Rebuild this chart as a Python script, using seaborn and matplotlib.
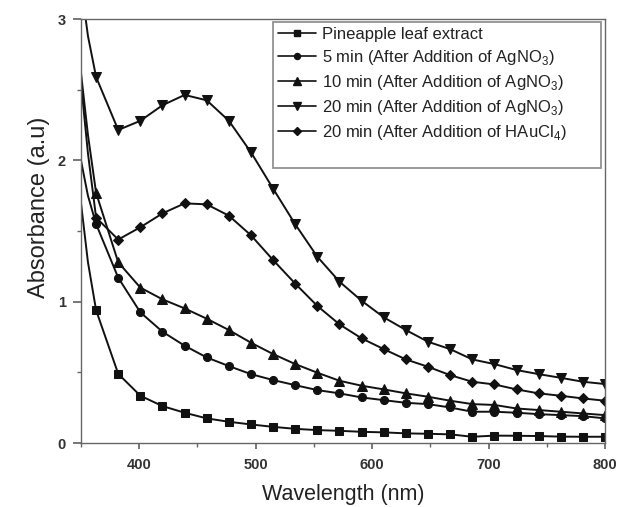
import numpy as np
import pandas as pd
import seaborn as sns
import matplotlib
matplotlib.use("Agg")
import matplotlib.pyplot as plt
from matplotlib.lines import Line2D
from matplotlib.ticker import MultipleLocator

# wavelengths (nm): first two are line-only points, the rest carry markers
wavelength = [350, 356, 363, 382, 401, 420, 439, 458, 477, 496, 515, 534, 553,
              572, 591, 610, 629, 648, 667, 686, 705, 724, 743, 762, 781, 800]

pineapple = [1.70, 1.28, 0.94, 0.49, 0.335, 0.262, 0.215, 0.175, 0.151, 0.132,
             0.115, 0.101, 0.092, 0.087, 0.080, 0.076, 0.069, 0.066, 0.062,
             0.045, 0.053, 0.052, 0.050, 0.046, 0.045, 0.045]
ag_5min = [2.00, 1.75, 1.55, 1.17, 0.925, 0.788, 0.689, 0.606, 0.545, 0.488,
           0.446, 0.410, 0.375, 0.352, 0.323, 0.304, 0.285, 0.276, 0.252,
           0.222, 0.222, 0.215, 0.205, 0.198, 0.191, 0.175]
ag_10min = [2.62, 2.18, 1.77, 1.279, 1.10, 1.017, 0.953, 0.88, 0.80, 0.71,
            0.63, 0.559, 0.498, 0.441, 0.406, 0.38, 0.352, 0.328, 0.30,
            0.276, 0.270, 0.245, 0.234, 0.222, 0.21, 0.198]
ag_20min = [3.25, 2.88, 2.59, 2.215, 2.28, 2.39, 2.463, 2.425, 2.28, 2.057,
            1.80, 1.548, 1.318, 1.142, 1.007, 0.89, 0.80, 0.717, 0.665,
            0.592, 0.559, 0.517, 0.488, 0.462, 0.434, 0.418]
au_20min = [2.55, 2.05, 1.595, 1.44, 1.527, 1.625, 1.696, 1.689, 1.609, 1.47,
            1.295, 1.128, 0.97, 0.84, 0.741, 0.665, 0.592, 0.54, 0.481,
            0.434, 0.415, 0.38, 0.352, 0.335, 0.316, 0.30]

labels = ["Pineapple leaf extract",
          "5 min (After Addition of AgNO$_3$)",
          "10 min (After Addition of AgNO$_3$)",
          "20 min (After Addition of AgNO$_3$)",
          "20 min (After Addition of HAuCl$_4$)"]
series = [pineapple, ag_5min, ag_10min, ag_20min, au_20min]
markers = ["s", "o", "^", "v", "D"]
msizes = [5.6, 5.8, 7, 7, 5.6]

sns.set_theme(style="ticks")
plt.rcParams["font.family"] = ["Liberation Sans", "DejaVu Sans"]
plt.rcParams["mathtext.fontset"] = "custom"
plt.rcParams["mathtext.rm"] = "Liberation Sans"

fig = plt.figure(figsize=(6.18, 5.07), dpi=100)
ax = fig.add_axes([0.131, 0.126, 0.848, 0.8365])

ink = "#111111"
mark_idx = list(range(2, len(wavelength)))
for vals, lab, m, ms in zip(series, labels, markers, msizes):
    df = pd.DataFrame({"wl": wavelength, "abs": vals})
    sns.lineplot(data=df, x="wl", y="abs", ax=ax, color=ink, lw=1.4,
                 marker=m, markersize=ms, markevery=mark_idx,
                 markeredgecolor=ink, estimator=None, errorbar=None)

ax.set_xlim(350, 800)
ax.set_ylim(0, 3)
ax.xaxis.set_major_locator(MultipleLocator(100))
ax.xaxis.set_minor_locator(MultipleLocator(50))
ax.yaxis.set_major_locator(MultipleLocator(1))
ax.yaxis.set_minor_locator(MultipleLocator(0.5))

for s in ax.spines.values():
    s.set_color("#666666")
    s.set_linewidth(1.0)

ax.tick_params(axis="both", which="both", direction="out", color="#666666",
               labelcolor="#333333", labelsize=10.5)
ax.tick_params(axis="y", which="major", length=6, pad=5)
ax.tick_params(axis="y", which="minor", length=3)
ax.tick_params(axis="x", which="major", length=4, pad=7)
ax.tick_params(axis="x", which="minor", length=3)
for t in ax.get_xticklabels() + ax.get_yticklabels():
    t.set_fontweight("bold")

ax.set_xlabel("Wavelength (nm)", fontsize=15.5, color="#222222", labelpad=8)
ax.set_ylabel("Absorbance (a.u)", fontsize=17, color="#222222")
ax.yaxis.set_label_coords(-0.06, 0.557)

handles = [Line2D([], [], color=ink, lw=1.2, marker=m, markersize=ms * 0.75,
                  markeredgecolor=ink) for m, ms in zip(markers, msizes)]
handles.append(Line2D([], [], color="none"))
leg = ax.legend(handles, labels + [" "], loc="upper left",
                bbox_to_anchor=(0.366, 0.656, 0.626, 0.337), mode="expand",
                borderaxespad=0, fancybox=False, frameon=True, fontsize=12,
                handlelength=2.3, handletextpad=0.35, labelspacing=0.36,
                borderpad=0.3)
leg.get_frame().set_edgecolor("#777777")
leg.get_frame().set_linewidth(1.3)
for t in leg.get_texts():
    t.set_color("#222222")

fig.savefig("out.png", dpi=100)
